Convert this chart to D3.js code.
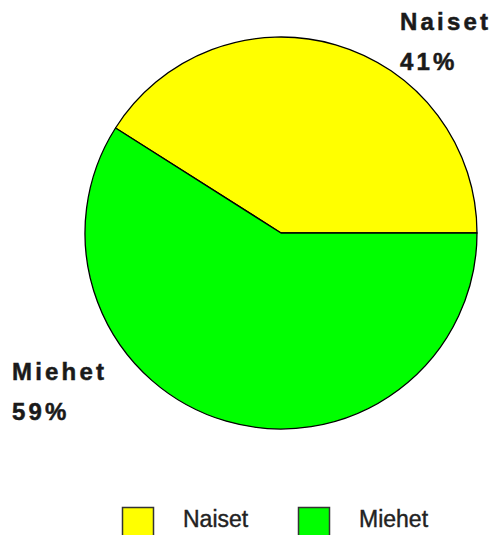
<!DOCTYPE html>
<html>
<head>
<meta charset="utf-8">
<script src="https://cdn.jsdelivr.net/npm/d3@7"></script>
<style>
  html, body { margin: 0; padding: 0; background: #fff; }
  svg { display: block; }
</style>
</head>
<body>
<svg id="chart" width="497" height="535"></svg>
<script>
const categories = ["Naiset", "Miehet"];
const values = [41, 59];
const colors = ["#ffff00", "#00ff00"];
const labelText = ["41%", "59%"];

const svg = d3.select("#chart");
const cx = 281, cy = 233, r = 196;

const pie = d3.pie()
  .sort(null)
  .value(d => d.value)
  .startAngle(Math.PI / 2)
  .endAngle(Math.PI / 2 - 2 * Math.PI);

const data = categories.map((c, i) => ({ cat: c, value: values[i], color: colors[i], pct: labelText[i] }));
const arcs = pie(data);
const arc = d3.arc().innerRadius(0).outerRadius(r);

const g = svg.append("g").attr("transform", `translate(${cx},${cy})`);
g.selectAll("path")
  .data(arcs)
  .join("path")
  .attr("d", arc)
  .attr("fill", d => d.data.color)
  .attr("stroke", "#000")
  .attr("stroke-width", 1.3)
  .attr("stroke-linejoin", "round");

// slice labels
const labelPos = [
  { x: 400, y1: 30, y2: 70 },
  { x: 12, y1: 380, y2: 420 }
];
const lab = svg.append("g")
  .attr("font-family", "Liberation Sans, Arial, sans-serif")
  .attr("font-weight", "bold")
  .attr("font-size", 24)
  .attr("fill", "#1a1a1a")
  .attr("stroke", "#1a1a1a")
  .attr("stroke-width", 0.5)
  .style("letter-spacing", "3.2px");
data.forEach((d, i) => {
  lab.append("text").attr("x", labelPos[i].x).attr("y", labelPos[i].y1).text(d.cat);
  lab.append("text").attr("x", labelPos[i].x).attr("y", labelPos[i].y2).text(d.pct);
});

// legend
const legendX = d3.scalePoint().domain(categories).range([122, 298]);
const leg = svg.append("g");
const items = leg.selectAll("g").data(data).join("g")
  .attr("transform", d => `translate(${legendX(d.cat)},507)`);
items.append("rect")
  .attr("x", 0.5).attr("y", 0.5)
  .attr("width", 31).attr("height", 30)
  .attr("fill", d => d.color)
  .attr("stroke", "#333")
  .attr("stroke-width", 1.5);
items.append("text")
  .attr("x", 61)
  .attr("y", 20)
  .attr("font-family", "Liberation Sans, Arial, sans-serif")
  .attr("font-size", 23)
  .attr("fill", "#222")
  .attr("stroke", "#222")
  .attr("stroke-width", 0.4)
  .text(d => d.cat);
</script>
</body>
</html>
